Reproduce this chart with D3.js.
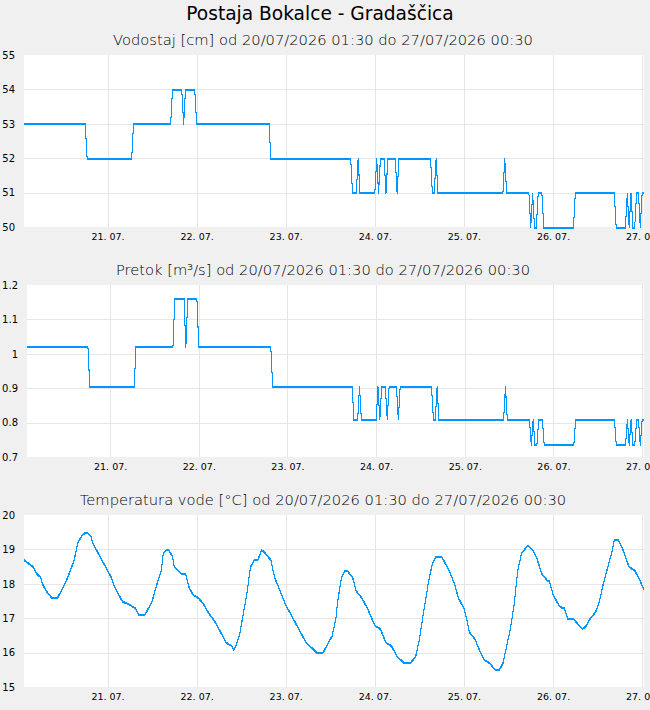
<!DOCTYPE html>
<html>
<head>
<meta charset="utf-8">
<script src="https://cdn.jsdelivr.net/npm/d3@7"></script>
<style>
  html, body { margin: 0; padding: 0; background: #f0f0f0; }
  svg { display: block; font-family: "DejaVu Sans", sans-serif; }
</style>
</head>
<body>
<div id="chart"></div>
<script>
// ---- data (30 min readings, 20/07/2026 01:30 .. 27/07/2026 00:30) ----
const startTime = new Date(2026, 6, 20, 1, 30);
const endTime = new Date(2026, 6, 27, 0, 30);

// water level runs: [cm, number of 30-min readings]
const levelRuns = [
  [53, 34], [52, 25], [53, 21], [54, 6], [53, 1], [54, 6], [53, 40], [52, 44],
  [51, 3], [52, 1], [51, 9], [52, 1], [51, 1], [52, 3], [51, 1], [52, 5],
  [51, 1], [52, 18], [51, 2], [52, 1], [51, 36], [52, 1], [51, 13], [50, 1],
  [51, 1], [50, 2], [51, 3], [50, 17], [51, 22], [50, 6], [51, 1], [50, 1],
  [51, 1], [50, 2], [51, 2], [50, 1], [51, 2]
];

// discharge read for each level step
const ratingLevels = [50, 51, 52, 53, 54];
const ratingFlows = [0.735, 0.81, 0.905, 1.02, 1.16];

// water temperature, hours after start
const tempHours = [
  0, 2.5, 3.5, 4.5, 5, 6, 7.5, 9, 10, 11, 12.5, 13.5, 14.5, 15.5, 16.5, 17, 18, 18.5,
  20.5, 22.5, 23.5, 24.5, 25.5, 26.5, 28.5, 30, 31, 32.5, 33.5, 34.5, 35.5, 37, 37.5,
  38.5, 39, 40, 40.5, 42.5, 43.5, 44.5, 45.5, 47, 48.5, 49.5, 51.5, 53, 54.5, 56, 56.5,
  57, 58, 59, 60, 61, 62, 63, 64, 65, 66.5, 67.5, 69, 70.5, 71.5, 73, 75, 76, 78, 79,
  80.5, 81.5, 83, 84, 84.5, 85.5, 86.5, 87, 88.5, 89.5, 91, 92.5, 94.5, 96, 97.5, 99,
  100.5, 101.5, 102.5, 104, 105.5, 106.5, 107.5, 109, 110, 111, 112.5, 113.5, 114.5,
  116, 117, 118.5, 119, 120, 121.5, 123, 124, 125.5, 127, 128, 129, 130, 131, 132,
  132.5, 133, 134, 135.5, 136, 137, 138, 139.5, 141, 141.5, 142.5, 144, 145, 145.5,
  146.5, 148, 149.5, 150.5, 151.5, 152.5, 154, 155, 156, 157, 158.5, 159, 160, 161,
  162, 163, 164.5, 165.5, 167
];
const tempValues = [
  18.7, 18.5, 18.3, 18.2, 18.0, 17.8, 17.6, 17.6, 17.8, 18.0, 18.4, 18.7, 19.2, 19.4, 19.5, 19.5, 19.4, 19.2,
  18.8, 18.4, 18.2, 17.9, 17.7, 17.5, 17.4, 17.3, 17.1, 17.1, 17.3, 17.5, 17.9, 18.4, 18.9,
  19.0, 19.0, 18.8, 18.5, 18.3, 18.3, 17.9, 17.7, 17.6, 17.4, 17.2, 16.9, 16.6, 16.3, 16.2, 16.1,
  16.2, 16.5, 17.1, 17.7, 18.5, 18.7, 18.7, 19.0, 18.9, 18.7, 18.2, 17.8, 17.4, 17.2, 16.9, 16.5, 16.3, 16.1, 16.0,
  16.0, 16.2, 16.5, 17.0, 17.5, 18.2, 18.4, 18.4, 18.2, 17.8, 17.6, 17.3, 16.8, 16.7, 16.3, 16.2,
  15.9, 15.8, 15.7, 15.7, 15.9, 16.4, 17.1, 18.1, 18.6, 18.8, 18.8, 18.6, 18.4,
  18.0, 17.6, 17.3, 17.1, 16.6, 16.4, 16.0, 15.8, 15.7, 15.5, 15.5, 15.7, 16.2, 16.7, 17.4,
  17.9, 18.4, 18.9, 19.1, 19.1, 19.0, 18.8, 18.3, 18.1, 18.1, 17.7, 17.4, 17.3, 17.3,
  17.0, 17.0, 16.8, 16.7, 16.8, 17.0, 17.2, 17.5, 18.0, 18.4, 19.0, 19.3, 19.3, 19.1,
  18.8, 18.5, 18.4, 18.2, 17.85
];

const levelTicks = [50, 51, 52, 53, 54, 55];
const flowTicks = [0.7, 0.8, 0.9, 1.0, 1.1, 1.2];
const tempTicks = [15, 16, 17, 18, 19, 20];

// ---- build series ----
const levels = [];
levelRuns.forEach(([v, n]) => { for (let k = 0; k < n; k++) levels.push(v); });

const levelData = levels.map((v, i) => ({ t: d3.timeMinute.offset(startTime, i * 30), v }));
const flowData = levelData.map(d => ({ t: d.t, v: ratingFlows[ratingLevels.indexOf(d.v)] }));
const tempData = tempHours.map((h, i) => ({ t: d3.timeMinute.offset(startTime, h * 60), v: tempValues[i] }));

// ---- layout ----
const W = 650, H = 710;
const plotRight = 644;
const plotH = 172;
const lineColor = "#0096ff";

const svg = d3.select("#chart").append("svg")
  .attr("width", W)
  .attr("height", H);

svg.append("rect").attr("width", W).attr("height", H).attr("fill", "#f0f0f0");

svg.append("text")
  .attr("x", 320)
  .attr("y", 20)
  .attr("text-anchor", "middle")
  .style("font-size", "18.6px")
  .style("fill", "#000")
  .text("Postaja Bokalce - Gradaščica");

const panels = [
  { top: 55, left: 24, data: levelData, ticks: levelTicks, fmt: d => d,
    title: "Vodostaj [cm] od 20/07/2026 01:30 do 27/07/2026 00:30" },
  { top: 285, left: 27, data: flowData, ticks: flowTicks, fmt: d => String(+d.toFixed(1)),
    title: "Pretok [m³/s] od 20/07/2026 01:30 do 27/07/2026 00:30" },
  { top: 515, left: 24, data: tempData, ticks: tempTicks, fmt: d => d,
    title: "Temperatura vode [°C] od 20/07/2026 01:30 do 27/07/2026 00:30" }
];

const dayTicks = d3.timeDay.range(d3.timeDay.ceil(startTime), d3.timeMinute.offset(endTime, 1));
const dayFmt = d3.timeFormat("%d. %m.");

panels.forEach(p => {
  const g = svg.append("g");

  const x = d3.scaleTime()
    .domain([startTime, endTime])
    .range([p.left, plotRight]);

  const y = d3.scaleLinear()
    .domain(d3.extent(p.ticks))
    .range([p.top + plotH, p.top]);

  // subtitle
  svg.append("text")
    .attr("x", 323)
    .attr("y", p.top - 10)
    .attr("text-anchor", "middle")
    .style("font-size", "14.7px")
    .style("font-weight", "200")
    .style("fill", "#000")
    .text(p.title);

  // plot area
  g.append("rect")
    .attr("x", p.left)
    .attr("y", p.top)
    .attr("width", plotRight - p.left)
    .attr("height", plotH)
    .attr("fill", "#fff");

  // horizontal grid
  g.selectAll(".hgrid")
    .data(p.ticks.slice(1, -1))
    .enter()
    .append("line")
    .attr("x1", p.left)
    .attr("x2", plotRight)
    .attr("y1", d => Math.round(y(d)) + 0.5)
    .attr("y2", d => Math.round(y(d)) + 0.5)
    .attr("stroke", "#e6e6e6");

  // vertical grid
  g.selectAll(".vgrid")
    .data(dayTicks)
    .enter()
    .append("line")
    .attr("x1", d => Math.round(x(d)) + 0.5)
    .attr("x2", d => Math.round(x(d)) + 0.5)
    .attr("y1", p.top)
    .attr("y2", p.top + plotH)
    .attr("stroke", "#e6e6e6");

  // y axis labels
  const yAxis = g.append("g")
    .attr("transform", `translate(${p.left - 6},0)`)
    .call(d3.axisLeft(y).tickValues(p.ticks).tickSize(0).tickFormat(p.fmt));
  yAxis.select(".domain").remove();
  yAxis.selectAll("text")
    .style("font-size", "10px")
    .style("font-family", "DejaVu Sans, sans-serif")
    .style("fill", "#000");

  // x axis labels
  const xAxis = g.append("g")
    .attr("transform", `translate(0,${p.top + plotH})`)
    .call(d3.axisBottom(x).tickValues(dayTicks).tickSize(0).tickFormat(dayFmt));
  xAxis.select(".domain").remove();
  xAxis.selectAll("text")
    .attr("dy", "1.05em")
    .style("font-size", "9.5px")
    .style("font-family", "DejaVu Sans, sans-serif")
    .style("fill", "#000");

  // series line
  const line = d3.line()
    .x(d => x(d.t))
    .y(d => y(d.v));

  [0, 1].forEach(off => {
    g.append("path")
      .datum(p.data)
      .attr("transform", `translate(0,${off})`)
      .attr("d", line)
      .attr("fill", "none")
      .attr("stroke", lineColor)
      .attr("stroke-width", 1)
      .attr("shape-rendering", "crispEdges");
  });
});
</script>
</body>
</html>
